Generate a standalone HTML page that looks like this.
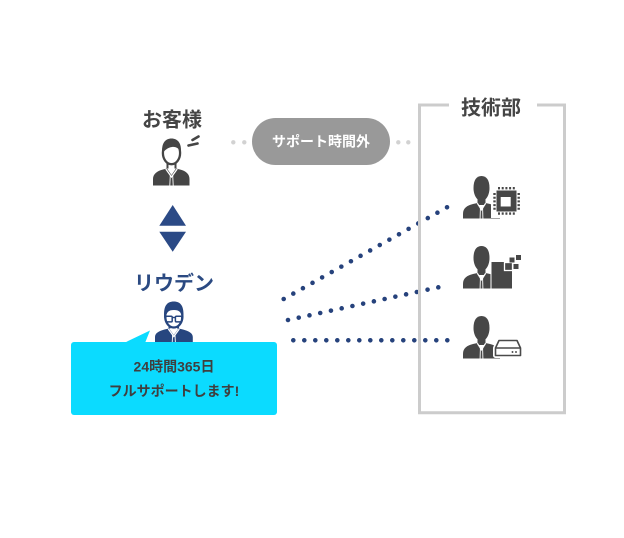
<!DOCTYPE html>
<html>
<head>
<meta charset="utf-8">
<style>
  html,body{margin:0;padding:0;background:#fff;}
  svg{display:block;}
  text{font-family:"Liberation Sans","Noto Sans CJK JP",sans-serif;font-weight:bold;}
</style>
</head>
<body>
<svg width="624" height="538" viewBox="0 0 624 538" xmlns="http://www.w3.org/2000/svg">
  <defs>
    <g id="tp">
      <rect x="14.5" y="19" width="8" height="10" fill="#474747"/>
      <path d="M10.5,12 C10.5,4 13.5,0 18.5,0 C23.5,0 26.5,4 26.5,12 C26.5,19 23,25 18.5,25 C14,25 10.5,19 10.5,12 Z" fill="#474747"/>
      <path d="M0,42.5 L0,38 C0,32 4,29.5 10,28 L14.5,27 L18.5,33 L22.5,27 L27,28 C33,29.5 37,32 37,38 L37,42.5 Z" fill="#474747"/>
      <polyline points="14.3,27.2 18.5,33.8 22.7,27.2" fill="none" stroke="#fff" stroke-width="1.3"/>
      <line x1="17.4" y1="32" x2="17.1" y2="42.5" stroke="#fff" stroke-width="0.9"/>
      <line x1="19.6" y1="32" x2="19.9" y2="42.5" stroke="#fff" stroke-width="0.9"/>
    </g>
  </defs>

  <rect width="624" height="538" fill="#fff"/>

  <!-- お客様 -->
  <text x="172" y="126.5" font-size="20" fill="#454545" text-anchor="middle">お客様</text>

  <!-- customer icon -->
  <path d="M153,185.5 L153,179 C153,174 157,171 163,169.5 L167,168.5 L171.5,175 L176,168.5 L180,169.5 C186,171 189.5,174 189.5,179 L189.5,185.5 Z" fill="#454545"/>
  <polyline points="165.8,169 171.5,177 177.2,169" fill="none" stroke="#fff" stroke-width="1.3"/>
  <line x1="170.3" y1="175" x2="169.8" y2="185.5" stroke="#fff" stroke-width="0.9"/>
  <line x1="172.7" y1="175" x2="173.2" y2="185.5" stroke="#fff" stroke-width="0.9"/>
  <path d="M167.5,162 L167.5,168.5 M175.5,162 L175.5,168.5" stroke="#454545" stroke-width="2"/>
  <ellipse cx="171.5" cy="153" rx="8.6" ry="11.2" fill="#fff" stroke="#454545" stroke-width="2.3"/>
  <path d="M162.3,154 C161,143 165.5,138.5 171.5,138.5 C177.5,138.5 182,143 180.8,153 C179.5,148.5 176,146.5 172,147 C168,147.5 164.5,150 162.3,154 Z" fill="#454545"/>
  <path d="M192.5,140 L198.5,136.5" stroke="#454545" stroke-width="2.6" stroke-linecap="round"/>
  <path d="M188.5,145.5 L197.5,143.5" stroke="#454545" stroke-width="2.6" stroke-linecap="round"/>

  <!-- gray dots and pill -->
  <circle cx="233.3" cy="142.3" r="2.2" fill="#d2d2d2"/>
  <circle cx="244.3" cy="142.3" r="2.2" fill="#d2d2d2"/>
  <circle cx="398.3" cy="142.3" r="2.2" fill="#d2d2d2"/>
  <circle cx="408.3" cy="142.3" r="2.2" fill="#d2d2d2"/>
  <rect x="252" y="118" width="138" height="47" rx="23.5" fill="#999"/>
  <text x="321" y="146.6" font-size="14" fill="#fff" text-anchor="middle">サポート時間外</text>

  <!-- triangles -->
  <polygon points="159.3,225.7 186,225.7 172.7,205" fill="#2b4a86"/>
  <polygon points="159.3,231.7 186,231.7 172.7,251.7" fill="#2b4a86"/>

  <!-- リウデン -->
  <text x="174" y="290" font-size="20" fill="#2b4a82" text-anchor="middle">リウデン</text>

  <!-- riuden icon -->
  <path d="M155,343 L155,337 C155,333 159,331 164.5,329.5 L169,328.5 L173.8,335 L178.6,328.5 L183,329.5 C188.5,331 192.8,333 192.8,337 L192.8,343 Z" fill="#27467f"/>
  <polyline points="168.3,329 173.8,336.5 179.3,329" fill="none" stroke="#fff" stroke-width="1.3"/>
  <line x1="172.6" y1="335" x2="172.2" y2="343" stroke="#fff" stroke-width="0.9"/>
  <line x1="175" y1="335" x2="175.4" y2="343" stroke="#fff" stroke-width="0.9"/>
  <path d="M169.5,323.5 L169.5,328.5 M178,323.5 L178,328.5" stroke="#27467f" stroke-width="2"/>
  <ellipse cx="173.8" cy="316.5" rx="8.6" ry="11" fill="#fff" stroke="#27467f" stroke-width="2.3"/>
  <path d="M164.3,318 C163,306 167,301.5 173.8,301.5 C180.5,301.5 184.5,306 183.3,318 L182,318 C181.5,312 179,310 174,310 C168.5,310 166.5,312 165.8,318 Z" fill="#27467f"/>
  <rect x="165.8" y="316.3" width="6.4" height="5.6" rx="1" fill="none" stroke="#27467f" stroke-width="1.5"/>
  <rect x="175.4" y="316.3" width="6.4" height="5.6" rx="1" fill="none" stroke="#27467f" stroke-width="1.5"/>
  <line x1="172" y1="317.5" x2="175.6" y2="317.5" stroke="#27467f" stroke-width="1.4"/>

  <!-- bubble -->
  <polygon points="124,343 150,330.5 145,343" fill="#0bdbff"/>
  <rect x="71" y="342" width="206" height="73" rx="3" fill="#0bdbff"/>
  <text x="174" y="371.5" font-size="14" fill="#3f3f3f" text-anchor="middle">24時間365日</text>
  <text x="174" y="396" font-size="14" fill="#3f3f3f" text-anchor="middle">フルサポートします!</text>

  <!-- dotted lines -->
  <g stroke="#26427c" stroke-width="4.6" stroke-linecap="round" fill="none">
    <line x1="283.7" y1="299" x2="447.2" y2="207.2" stroke-dasharray="0 11.018"/>
    <line x1="288" y1="320" x2="449" y2="285" stroke-dasharray="0 10.987"/>
    <line x1="293.3" y1="340.3" x2="447.4" y2="340.3" stroke-dasharray="0 11.0"/>
  </g>

  <!-- box -->
  <path d="M537,105 H564.5 V412.8 H419.5 V105 H449" fill="none" stroke="#cccccc" stroke-width="3"/>
  <text x="491" y="114.5" font-size="20" fill="#454545" text-anchor="middle">技術部</text>

  <!-- tech icon 1 -->
  <use href="#tp" x="463" y="176"/>
  <rect x="491" y="185" width="31" height="33" fill="#fff"/>
  <g stroke="#474747" stroke-width="2.4" stroke-dasharray="2 1.7">
    <line x1="498" y1="188.2" x2="515.5" y2="188.2"/>
    <line x1="498" y1="213.6" x2="515.5" y2="213.6"/>
    <line x1="494.5" y1="193" x2="494.5" y2="210.5"/>
    <line x1="518.7" y1="193" x2="518.7" y2="210.5"/>
  </g>
  <rect x="496.5" y="190.5" width="20" height="21" fill="#474747"/>
  <rect x="500.7" y="197" width="10" height="9.5" fill="#fff"/>

  <!-- tech icon 2 -->
  <use href="#tp" x="463" y="246"/>
  <rect x="490.5" y="261" width="22.5" height="28.5" fill="#fff"/>
  <rect x="491.5" y="262" width="20.5" height="26.5" fill="#474747"/>
  <rect x="504.5" y="262.5" width="8" height="8" fill="#474747" stroke="#fff" stroke-width="1.3"/>
  <rect x="513.5" y="264" width="5" height="5" fill="#474747"/>
  <rect x="509.5" y="257.5" width="5" height="5" fill="#474747"/>
  <rect x="516" y="255" width="5" height="5" fill="#474747"/>

  <!-- tech icon 3 -->
  <use href="#tp" x="463" y="316"/>
  <path d="M499,340.5 L517,340.5 L520.5,348 L520.5,355.5 L495.5,355.5 L495.5,348 Z" fill="#fff" stroke="#fff" stroke-width="5" stroke-linejoin="round"/>
  <path d="M499,340.5 L517,340.5 L520.5,348 L520.5,355.5 L495.5,355.5 L495.5,348 Z" fill="#fff" stroke="#4a4a4a" stroke-width="1.6" stroke-linejoin="round"/>
  <line x1="495.5" y1="348" x2="520.5" y2="348" stroke="#4a4a4a" stroke-width="1.4"/>
  <circle cx="512.5" cy="352" r="0.95" fill="#4a4a4a"/>
  <circle cx="516" cy="352" r="0.95" fill="#4a4a4a"/>
</svg>
</body>
</html>
